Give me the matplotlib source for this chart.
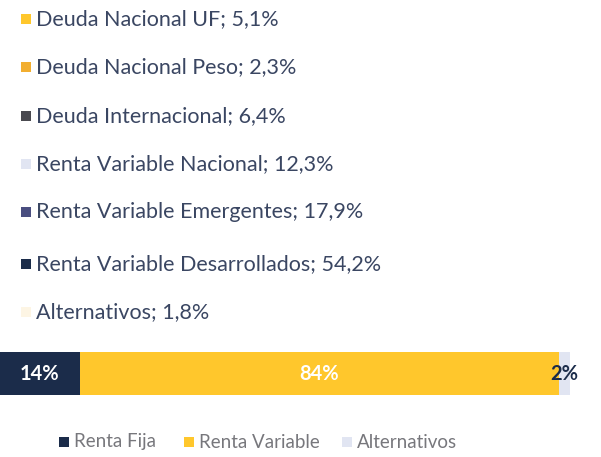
import matplotlib
matplotlib.use("Agg")
import matplotlib.pyplot as plt
from matplotlib.patches import Rectangle

# Detail breakdown (top legend)
detail_labels = ["Deuda Nacional UF", "Deuda Nacional Peso", "Deuda Internacional",
                 "Renta Variable Nacional", "Renta Variable Emergentes",
                 "Renta Variable Desarrollados", "Alternativos"]
detail_values = ["5,1%", "2,3%", "6,4%", "12,3%", "17,9%", "54,2%", "1,8%"]
detail_colors = ["#FFC72C", "#F2AE30", "#4A4A50", "#E1E5F2", "#4A4E80", "#1B2C4A", "#FDF5E4"]

# Aggregated classes (stacked bar)
class_labels = ["Renta Fija", "Renta Variable", "Alternativos"]
class_values = [14, 84, 2]
class_colors = ["#1B2C4A", "#FFC72C", "#E1E5F2"]
class_text_colors = ["white", "white", "#1B2C4A"]

W, H = 601, 457
fig = plt.figure(figsize=(W / 100, H / 100), dpi=100)
FONT = "Lato"

def px(x, y):
    return x / W, 1 - y / H

# Top legend
row_y = [19, 67, 116, 164, 212, 264, 312]
for lab, val, col, y in zip(detail_labels, detail_values, detail_colors, row_y):
    x0, y0 = px(21, y + 5)
    fig.patches.append(Rectangle((x0, y0), 10 / W, 10 / H, transform=fig.transFigure,
                                 facecolor=col, edgecolor="none"))
    fx, fy = px(36, y)
    fig.text(fx, fy, f"{lab}; {val}", fontsize=15.5, family=FONT,
             color="#3A4662", va="center", ha="left")

# Stacked horizontal bar
ax = fig.add_axes([0, 1 - 395 / H, 570 / W, 43 / H])
left = 0
for val, col, tcol in zip(class_values, class_colors, class_text_colors):
    ax.barh(0, val, left=left, height=1.0, color=col, edgecolor="none")
    ax.text(left + val / 2, 0, f"{val}%", ha="center", va="center", color=tcol,
            fontsize=14.5, fontweight="bold", family=FONT, clip_on=False)
    left += val
ax.set_xlim(0, sum(class_values))
ax.set_ylim(-0.5, 0.5)
ax.axis("off")

# Bottom legend
leg_x = [59, 184, 342]
for lab, col, x in zip(class_labels, class_colors, leg_x):
    x0, y0 = px(x, 447)
    fig.patches.append(Rectangle((x0, y0), 10 / W, 10 / H, transform=fig.transFigure,
                                 facecolor=col, edgecolor="none"))
    fx, fy = px(x + 15, 442)
    fig.text(fx, fy, lab, fontsize=13.5, family=FONT, color="#77777C",
             va="center", ha="left")

fig.savefig("out.png", dpi=100)
